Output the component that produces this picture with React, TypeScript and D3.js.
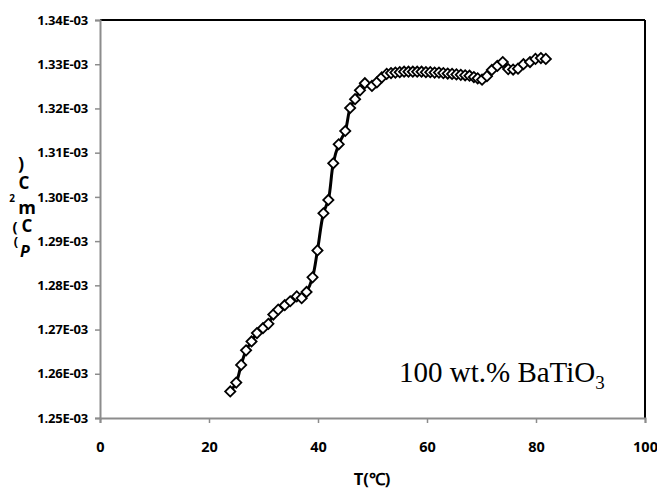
import React, { useEffect, useRef } from 'react'
import * as d3 from 'd3'

const width = 657
const height = 496
const margin = { top: 20, right: 12, bottom: 78, left: 100 }

// temperature (°C)
const temps = [
  23.9, 25.0, 25.9, 26.8, 27.8, 28.8, 29.9, 30.9, 31.8, 32.7, 33.9, 34.9, 36.1, 37.0, 37.9,
  39.0, 39.9, 41.0, 41.9, 42.8, 43.8, 45.0, 45.9, 46.8, 47.7, 48.6, 49.9, 50.8, 51.7, 52.6,
  53.4, 54.2, 55.0, 55.8, 56.6, 57.4, 58.2, 59.0, 59.8, 60.6, 61.4, 62.2, 63.0, 63.8, 64.6,
  65.4, 66.2, 67.0, 67.8, 68.6, 69.3, 70.1, 71.0, 71.9, 72.9, 73.9, 74.9, 75.8, 76.7, 77.7,
  78.9, 79.9, 80.9, 81.8,
]
// Cp values
const cp = [
  1.256e-3, 1.258e-3, 1.262e-3, 1.2653e-3, 1.2673e-3, 1.2692e-3, 1.2703e-3, 1.2713e-3, 1.2734e-3,
  1.2745e-3, 1.2755e-3, 1.2764e-3, 1.2775e-3, 1.2771e-3, 1.2785e-3, 1.2818e-3, 1.2879e-3,
  1.2963e-3, 1.2993e-3, 1.3076e-3, 1.3119e-3, 1.3149e-3, 1.3201e-3, 1.3221e-3, 1.3241e-3,
  1.3257e-3, 1.3251e-3, 1.3259e-3, 1.327e-3, 1.3278e-3,
  1.328e-3, 1.3281e-3, 1.3282e-3, 1.3283e-3, 1.3283e-3, 1.3283e-3, 1.3283e-3, 1.3283e-3,
  1.3282e-3, 1.3282e-3, 1.3281e-3, 1.3281e-3, 1.328e-3, 1.3279e-3, 1.3278e-3, 1.3277e-3,
  1.3276e-3, 1.3275e-3, 1.3274e-3, 1.3271e-3, 1.3268e-3, 1.3265e-3, 1.3273e-3, 1.3287e-3,
  1.3296e-3, 1.3305e-3, 1.3289e-3, 1.3288e-3, 1.329e-3, 1.33e-3, 1.3305e-3, 1.3312e-3,
  1.3314e-3, 1.3312e-3,
]
const xTicks = [0, 20, 40, 60, 80, 100]
const yTicks = [1.25e-3, 1.26e-3, 1.27e-3, 1.28e-3, 1.29e-3, 1.3e-3, 1.31e-3, 1.32e-3, 1.33e-3, 1.34e-3]

const fmtY = (v: number) => (v * 1000).toFixed(2) + 'E-03'

export default function App() {
  const svgRef = useRef<SVGSVGElement>(null)

  useEffect(() => {
    document.body.style.margin = '0'
    const svg = d3.select(svgRef.current)
    svg.selectAll('*').remove()

    const x = d3.scaleLinear().domain([0, 100]).range([margin.left, width - margin.right])
    const y = d3.scaleLinear().domain([1.25e-3, 1.34e-3]).range([height - margin.bottom, margin.top])

    // top and right borders
    svg.append('line').attr('x1', x(0)).attr('x2', x(100)).attr('y1', y(1.34e-3)).attr('y2', y(1.34e-3))
      .attr('stroke', '#000').attr('stroke-width', 2)
    svg.append('line').attr('x1', x(100)).attr('x2', x(100)).attr('y1', y(1.34e-3)).attr('y2', y(1.25e-3))
      .attr('stroke', '#000').attr('stroke-width', 2)

    const xAxis = d3.axisBottom(x).tickValues(xTicks).tickSize(5).tickPadding(19).tickFormat(d3.format('d'))
    const gx = svg.append('g').attr('transform', `translate(0,${y(1.25e-3)})`).call(xAxis)
    const yAxis = d3.axisLeft(y).tickValues(yTicks).tickSize(5).tickPadding(7).tickFormat((d) => fmtY(+d))
    const gy = svg.append('g').attr('transform', `translate(${x(0)},0)`).call(yAxis)

    ;[gx, gy].forEach((g) => {
      g.select('.domain').attr('stroke', '#8c8c8c').attr('stroke-width', 2)
      g.selectAll('.tick line').attr('stroke', '#8c8c8c').attr('stroke-width', 1.5)
      g.selectAll('.tick text').attr('fill', '#000').style('font-family', '"Open Sans", sans-serif')
        .style('font-weight', 700)
    })
    gx.selectAll('.tick text').style('font-size', '14.5px')
    gy.selectAll('.tick text').style('font-size', '13px').style('letter-spacing', '-0.2px')

    const pts = temps.map((t, i) => [t, cp[i]] as [number, number])
    const line = d3.line<[number, number]>().x((d) => x(d[0])).y((d) => y(d[1])).curve(d3.curveCatmullRom)
    svg.append('path').attr('d', line(pts)).attr('fill', 'none').attr('stroke', '#000').attr('stroke-width', 3)

    const diamond = d3.symbol().type(d3.symbolSquare).size(52)
    svg.append('g').selectAll('path').data(pts).join('path')
      .attr('d', diamond())
      .attr('transform', (d) => `translate(${x(d[0])},${y(d[1])}) rotate(45)`)
      .attr('fill', '#fff').attr('stroke', '#000').attr('stroke-width', 1.8)

    // axis title
    svg.append('text').attr('x', 372).attr('y', 485).attr('text-anchor', 'middle')
      .style('font-family', '"Open Sans", sans-serif').style('font-weight', 700).style('font-size', '16.5px')
      .text('T(℃)')

    // garbled vertical y title
    const yt = svg.append('g').style('font-family', '"Open Sans", sans-serif').style('font-weight', 700)
    const chars: [string, number, number, number, boolean][] = [
      [')', 21, 170, 18, false],
      ['C', 24, 189, 17, false],
      ['2', 12, 202, 10, false],
      ['m', 27, 214, 18, false],
      ['(', 15, 232, 15, false],
      ['C', 27, 232, 17, false],
      ['(', 16, 246, 13, false],
      ['P', 25, 257, 16, true],
    ]
    chars.forEach(([c, cx, cy, fs, it]) => {
      yt.append('text').attr('x', cx).attr('y', cy).attr('text-anchor', 'middle')
        .style('font-size', fs + 'px').style('font-style', it ? 'italic' : 'normal').text(c)
    })

    // annotation
    const note = svg.append('text').attr('x', 399).attr('y', 382)
      .style('font-family', '"Liberation Serif", "Times New Roman", serif').style('font-size', '29px')
    note.append('tspan').text('100 wt.% BaTiO')
    note.append('tspan').attr('dy', 7).style('font-size', '19px').text('3')
  }, [])

  return <svg ref={svgRef} width={width} height={height} style={{ display: 'block', background: '#fff' }} />
}
